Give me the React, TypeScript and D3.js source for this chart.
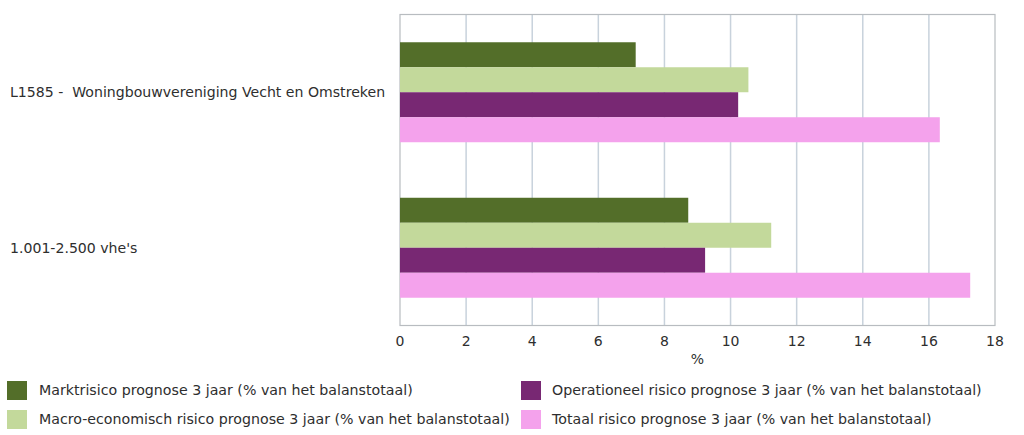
import React from "react";
import * as d3 from "d3";

const categories = ["L1585 -  Woningbouwvereniging Vecht en Omstreken", "1.001-2.500 vhe's"];
const seriesNames = [
  "Marktrisico prognose 3 jaar (% van het balanstotaal)",
  "Macro-economisch risico prognose 3 jaar (% van het balanstotaal)",
  "Operationeel risico prognose 3 jaar (% van het balanstotaal)",
  "Totaal risico prognose 3 jaar (% van het balanstotaal)",
];
const marktrisico = [7.13, 8.72];
const macroRisico = [10.54, 11.23];
const operationeelRisico = [10.23, 9.23];
const totaalRisico = [16.33, 17.25];
const seriesValues = [marktrisico, macroRisico, operationeelRisico, totaalRisico];
const colors = ["#536e29", "#c3d99b", "#782873", "#f4a2ec"];
const xTicks = [0, 2, 4, 6, 8, 10, 12, 14, 16, 18];
const axisTitle = "%";

const W = 1024;
const H = 435;
const FONT = "'DejaVu Sans', Verdana, sans-serif";
const TEXT = "#2e2e2e";

export default function App() {
  const x = d3.scaleLinear().domain([0, 18]).range([400, 995]);
  const y = d3.scaleBand<string>().domain(categories).range([14.5, 325.5]).paddingInner(0.357).paddingOuter(0.1785);
  const ys = d3.scaleBand<number>().domain(d3.range(seriesNames.length)).range([0, y.bandwidth()]);
  const [x0, x1] = x.range();
  const [y0, y1] = y.range();

  const legendPos = [
    { sx: 7, sy: 381, tx: 39 },
    { sx: 7, sy: 410, tx: 39 },
    { sx: 521, sy: 381, tx: 552 },
    { sx: 521, sy: 410, tx: 552 },
  ];

  return (
    <svg width={W} height={H} style={{ position: "absolute", left: 0, top: 0, background: "#fff" }} fontFamily={FONT}>
      <rect x={0} y={0} width={W} height={H} fill="#fff" />
      {/* gridlines */}
      {xTicks.slice(1, -1).map((t) => (
        <line key={t} x1={x(t)} x2={x(t)} y1={y0} y2={y1} stroke="#c8d2dc" strokeWidth={1.5} />
      ))}
      {/* frame */}
      <rect x={x0} y={y0} width={x1 - x0} height={y1 - y0} fill="none" stroke="#b8bcc0" strokeWidth={1.2} />
      {/* bars */}
      {categories.map((c, ci) => (
        <g key={c} transform={`translate(0,${y(c)})`}>
          {seriesValues.map((vals, si) => (
            <rect key={si} x={x(0)} y={ys(si)} width={x(vals[ci]) - x(0)} height={ys.bandwidth()} fill={colors[si]} />
          ))}
        </g>
      ))}
      {/* category labels */}
      {categories.map((c) => (
        <text key={c} x={10} y={(y(c) as number) + y.bandwidth() / 2} dy="0.35em" fontSize={14.1} fill={TEXT} style={{ whiteSpace: "pre" }}>
          {c}
        </text>
      ))}
      {/* x tick labels */}
      {xTicks.map((t) => (
        <text key={t} x={x(t)} y={346} textAnchor="middle" fontSize={14} fill={TEXT}>
          {t}
        </text>
      ))}
      <text x={(x0 + x1) / 2} y={364} textAnchor="middle" fontSize={14} fill={TEXT}>
        {axisTitle}
      </text>
      {/* legend */}
      {seriesNames.map((n, i) => (
        <g key={n}>
          <rect x={legendPos[i].sx} y={legendPos[i].sy} width={20} height={19} fill={colors[i]} />
          <text x={legendPos[i].tx} y={legendPos[i].sy + 9.5} dy="0.35em" fontSize={14.2} fill={TEXT}>
            {n}
          </text>
        </g>
      ))}
    </svg>
  );
}
